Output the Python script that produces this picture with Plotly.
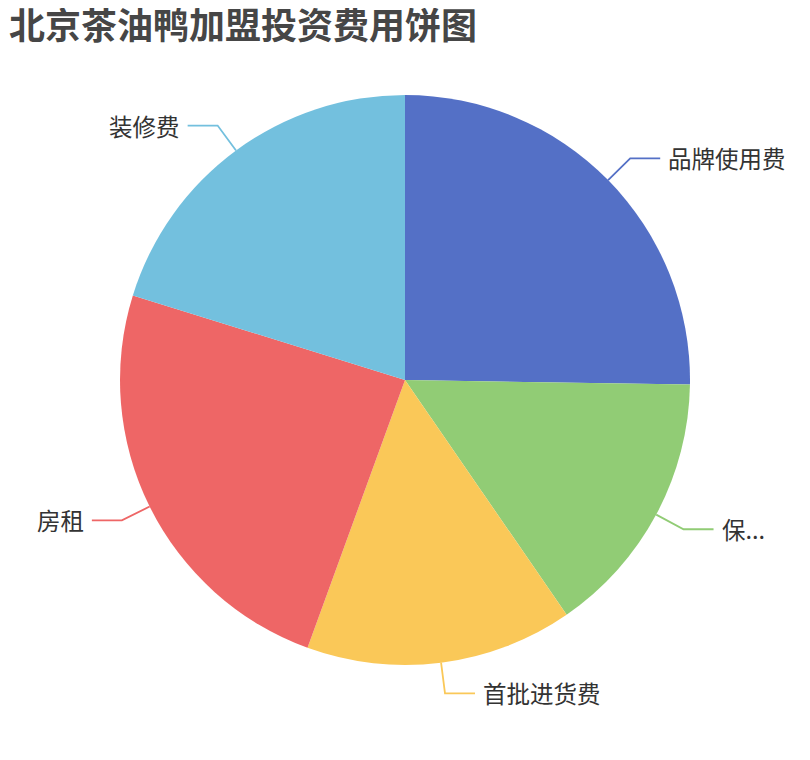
import math

import plotly.graph_objects as go

# data
categories = ["品牌使用费", "保证金", "首批进货费", "房租", "装修费"]
values = [25000, 15000, 15000, 24000, 20000]
colors = ["#5470c6", "#91cc75", "#fac858", "#ee6666", "#73c0de"]
shown_text = ["品牌使用费", "保...", "首批进货费", "房租", "装修费"]

TITLE = "北京茶油鸭加盟投资费用饼图"
FONT = "Noto Sans CJK SC, Noto Sans, sans-serif"

# the page body adds an 8px margin, so the figure is a bit smaller than the window
W, H = 794, 744
ML, MT = 112, 87
PLOT = 570                  # square plot area, pie radius = PLOT / 2
MR, MB = W - ML - PLOT, H - MT - PLOT

fig = go.Figure()

fig.add_trace(go.Pie(
    labels=categories,
    values=values,
    marker=dict(colors=colors, line=dict(width=0)),
    sort=False,
    direction="clockwise",
    rotation=0,
    textinfo="none",
    hovertemplate="%{label}: %{value} (%{percent})<extra></extra>",
    showlegend=False,
))

# leader lines + outside labels, placed from the slice mid-angles (paper units)
total = sum(values)
seg1 = 31 / PLOT
seg2 = 30 / PLOT
gap = 6 / PLOT
shapes = []
annotations = []
start = 0.0
for name, v, c, txt in zip(categories, values, colors, shown_text):
    mid = start + v / total * 360 / 2
    start += v / total * 360
    a = math.radians(mid)
    sx, sy = math.sin(a), math.cos(a)
    x0, y0 = 0.5 + 0.5 * sx, 0.5 + 0.5 * sy
    x1, y1 = 0.5 + (0.5 + seg1) * sx, 0.5 + (0.5 + seg1) * sy
    side = 1 if sx >= 0 else -1
    x2 = x1 + side * seg2
    shapes.append(dict(
        type="path", xref="paper", yref="paper",
        path=f"M {x0} {y0} L {x1} {y1} L {x2} {y1}",
        line=dict(color=c, width=1.8),
    ))
    annotations.append(dict(
        x=x2 + side * gap, y=y1, xref="paper", yref="paper",
        text=txt, showarrow=False,
        xanchor="left" if side > 0 else "right", yanchor="middle",
        font=dict(family=FONT, size=23.5, color="#333333"),
    ))

fig.update_layout(
    title=dict(
        text=f"<b>{TITLE}</b>",
        x=1 / W, xref="container", xanchor="left",
        y=1 - 18 / H, yref="container", yanchor="middle",
        font=dict(family=FONT, size=36, color="#464646"),
    ),
    shapes=shapes,
    annotations=annotations,
    font=dict(family=FONT),
    plot_bgcolor="white",
    paper_bgcolor="white",
    margin=dict(l=ML, r=MR, t=MT, b=MB),
    width=W,
    height=H,
    autosize=False,
)

fig.write_html("out.html")
